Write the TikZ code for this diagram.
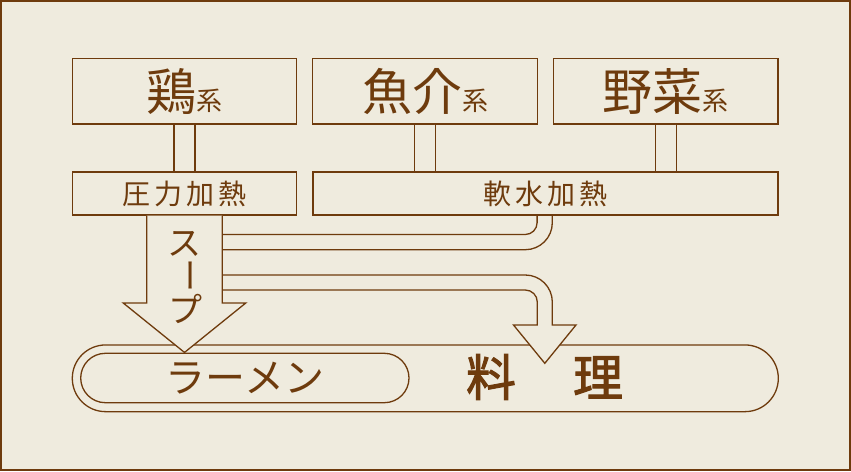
\documentclass[tikz,border=0pt]{standalone}
\usepackage{fontspec}
\setmainfont{Noto Sans CJK JP}
\newfontfamily\cjkheavy[FakeBold=2]{Noto Sans CJK JP}
\usetikzlibrary{calc}
\definecolor{bg}{HTML}{EFEBDE}
\definecolor{br}{HTML}{6E3B0D}
\newcommand{\bigkanji}[1]{{\fontsize{50}{50}\selectfont #1}}
\newcommand{\smallkei}{{\fontsize{26}{26}\selectfont 系}}
\begin{document}
\begin{tikzpicture}[x=1pt,y=-1pt,
  lw/.style={line width=1.3pt, draw=br},
  bigbox/.style={lw, rectangle, fill=bg, minimum width=224.4pt, minimum height=65.7pt, inner sep=0pt, text=br},
  smallbox/.style={lw, rectangle, fill=bg, minimum width=224.4pt, minimum height=43pt, inner sep=0pt, text=br, font=\fontsize{28}{28}\selectfont},
  link/.style={lw, double=bg, double distance=19.7pt},
  band/.style={lw, fill=bg, line join=miter},
  pill/.style={lw, rectangle, inner sep=0pt},
  label/.style={text=br, inner sep=0pt}]
\useasboundingbox (0,0) rectangle (851,471);
\fill[bg] (0,0) rectangle (851,471);
\draw[br, line width=1.6pt] (0.8,0.8) rectangle (850.2,470.2);

% top boxes
\node[bigbox] (chicken) at (184.5,91) {\bigkanji{鶏}\smallkei};
\node[bigbox] (fish) at (425,91) {\bigkanji{魚介}\smallkei};
\node[bigbox] (veg) at (665.8,91) {\bigkanji{野菜}\smallkei};

% heating boxes
\node[smallbox] (pressure) at (184.5,193.5) {圧\hspace{4.3pt}力\hspace{4.3pt}加\hspace{4.3pt}熱};
\node[smallbox, minimum width=465pt] (soft) at (545.5,193.5) {軟\hspace{4.3pt}水\hspace{4.3pt}加\hspace{4.3pt}熱};

% double connectors
\draw[link] (chicken.south) -- (pressure.north);
\draw[link] (fish.south) -- (fish.south |- soft.north);
\draw[link] (veg.south) -- (veg.south |- soft.north);

% upper band: soft water heating into soup
\draw[lw] (537.1,215.65) -- (537.1,222.7) arc (0:90:11.8) -- (222.3,234.5);
\draw[lw] (552.3,215.65) -- (552.3,222.7) arc (0:90:27) -- (222.3,249.7);

% dish pills
\node[pill, minimum width=706pt, minimum height=66.7pt, rounded corners=33.3pt] (dish) at (425.3,378.3) {};
\node[pill, minimum width=328.3pt, minimum height=49.4pt, rounded corners=24.7pt] (ramen) at (244.85,378) {};
\node[label, font=\fontsize{40}{40}\selectfont] (ramentext) at (245,378.5) {ラーメン};
\node[label, font=\fontsize{50}{50}\cjkheavy] (ryori) at (544.5,377) {料\hspace{57pt}理};

% lower band + arrow head into dish
\path[band] (222.3,275) -- (525.3,275) arc (-90:0:27) -- (552.3,325) -- (576,325) -- (544.8,363.3) -- (513.5,325) -- (537.3,325) -- (537.3,302) arc (0:-90:12) -- (222.3,290);

% soup arrow
\coordinate (ps) at (pressure.south);
\path[band] ($(ps)+(-37.8,0)$) -- ($(ps)+(-37.8,87.4)$) -- ($(ps)+(-61.2,87.4)$) -- ($(ps)+(0,136.8)$) -- ($(ps)+(61.2,87.4)$) -- ($(ps)+(37.8,87.4)$) -- ($(ps)+(37.8,0)$);
\node[label, font=\fontsize{34}{34}\selectfont] (su) at (184.5,244) {ス};
\node[label, font=\fontsize{34}{34}\selectfont, rotate=-90] (bar) at (184.5,275) {ー};
\node[label, font=\fontsize{34}{34}\selectfont] (pu) at (185.5,309) {プ};
\end{tikzpicture}
\end{document}
